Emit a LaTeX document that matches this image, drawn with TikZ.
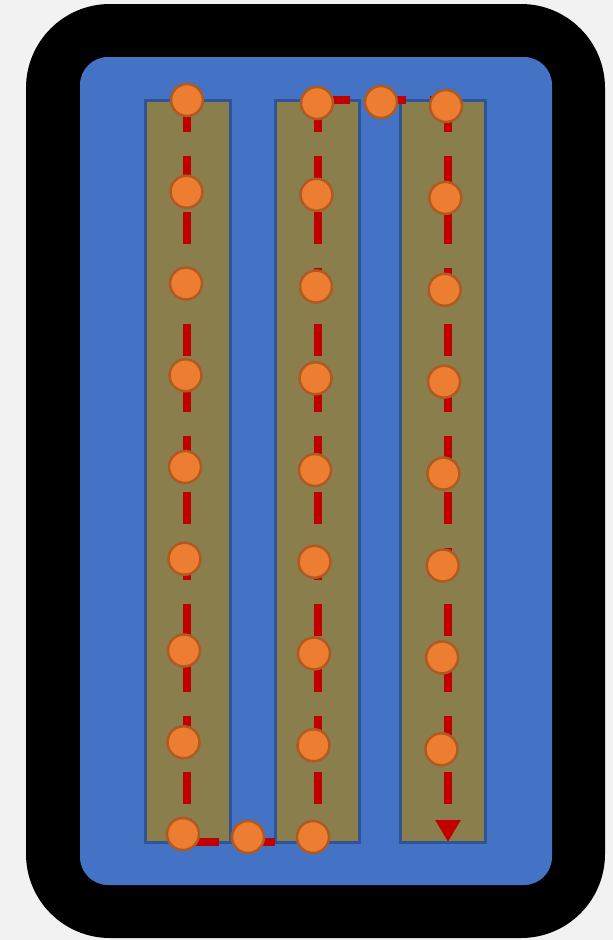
\documentclass[tikz,border=0pt]{standalone}
\usetikzlibrary{arrows.meta}

\definecolor{pagegray}{HTML}{F2F2F2}
\definecolor{boardblue}{HTML}{4472C4}
\definecolor{stripfill}{RGB}{139,126,77}
\definecolor{stripline}{HTML}{2F5597}
\definecolor{dotfill}{HTML}{ED7D31}
\definecolor{dotline}{HTML}{AE5A21}
\definecolor{routered}{HTML}{C00000}

\begin{document}
\begin{tikzpicture}[
  x=1pt, y=-1pt,
  strip/.style={draw=stripline, line width=3pt, fill=stripfill},
  dot/.style={circle, draw=dotline, fill=dotfill, line width=2.5pt, minimum size=32pt, inner sep=0pt},
  route/.style={draw=routered, line width=8pt, dash pattern=on 32pt off 24pt}
]
\fill[pagegray] (0,0) rectangle (613,940);
\useasboundingbox (0,0) rectangle (613,940);

% frame and board
\fill[black, rounded corners=84pt] (26,4) rectangle (605,938);
\fill[boardblue, rounded corners=28pt] (80,57) rectangle (552,885);

% strips
\path[strip] (145,100) rectangle (230,842);
\path[strip] (275,100) rectangle (359,842);
\path[strip] (400,100) rectangle (485,842);

% route corners
\coordinate (r1top) at (187,100);
\coordinate (r1bot) at (187,842);
\coordinate (r2bot) at (318,842);
\coordinate (r2top) at (318,100);
\coordinate (r3top) at (448,100);
\coordinate (r3end) at (448,842);

% each leg dashed on its own, down the strips
\draw[route] (r1top) -- (r1bot);
\draw[route] (r1bot) -- (r2bot);
\draw[route] (r2top) -- (r2bot);
\draw[route] (r2top) -- (r3top);
\draw[route, -{Triangle[length=22pt, width=24pt]}] (r3top) -- (r3end);

% points
\foreach \i in {0,...,8}
  \node[dot] (a\i) at ({187-0.5*\i}, {100+91.75*\i}) {};
\foreach \i in {0,...,8}
  \node[dot] (b\i) at ({317-0.5*\i}, {103+91.75*\i}) {};
\foreach \i in {0,...,7}
  \node[dot] (c\i) at ({446-0.65*\i}, {106+91.9*\i}) {};
\node[dot] (mbot) at (248,837) {};
\node[dot] (mtop) at (381,102) {};
\end{tikzpicture}
\end{document}
